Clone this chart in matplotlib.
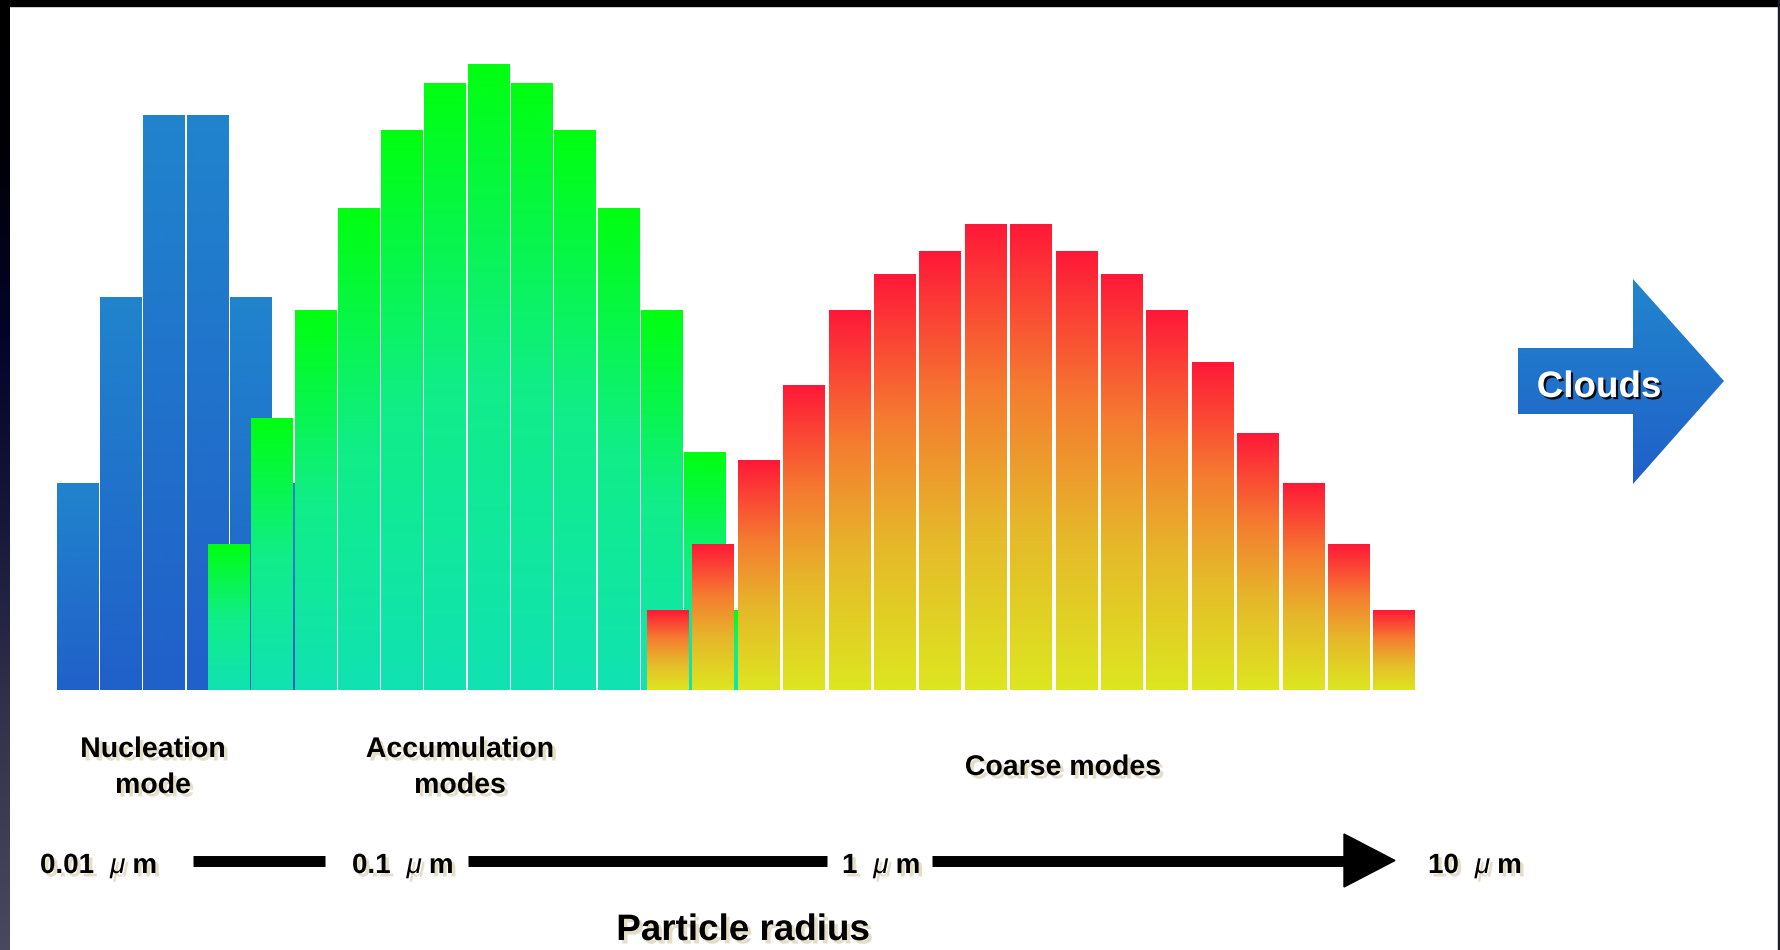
import numpy as np
import matplotlib
matplotlib.use("Agg")
import matplotlib.pyplot as plt
from matplotlib.patches import Rectangle, Polygon
from matplotlib.colors import LinearSegmentedColormap
import matplotlib.patheffects as pe

# Relative number concentration in each radius bin, per aerosol mode
nucleation = [207, 393, 575, 575, 393, 207]
accumulation = [146, 272, 380, 482, 560, 607, 626, 607, 560, 482, 380, 238, 80]
coarse = [80, 146, 230, 305, 380, 416, 439, 466, 466, 439, 416, 380, 328, 257, 207, 146, 80]

mode_labels = ["Nucleation\nmode", "Accumulation\nmodes", "Coarse modes"]
radius_ticks = ["0.01", "0.1", "1", "10"]
radius_unit = ("\u03bc", "m")
axis_title = "Particle radius"
arrow_label = "Clouds"

W, H = 1781, 950
fig = plt.figure(figsize=(W / 100, H / 100), dpi=100)
fig.patch.set_facecolor("white")

FONT = "Liberation Sans"
base_px, top_px = 690, 6

# ---- histogram bars with vertical colour gradients ----
ax = fig.add_axes([0, (H - base_px) / H, 1, (base_px - top_px) / H])
ax.axis("off")

modes = [
    (nucleation, 57.0, 43.25, 42.0,
     [(0, "#2084CD"), (1, "#2060C9")], 1),
    (accumulation, 208.0, 43.3, 42.0,
     [(0, "#00FF10"), (0.5, "#10EE88"), (1, "#12E2B2")], 2),
    (coarse, 647.0, 45.4, 42.0,
     [(0, "#FF1838"), (0.35, "#F57C30"), (0.65, "#E6B82A"), (1, "#DDE620")], 3),
]
grad = np.linspace(0, 1, 256).reshape(-1, 1)
for vals, left, pitch, width, stops, z in modes:
    xs = left + pitch * np.arange(len(vals))
    bars = ax.bar(xs, vals, width=width, align="edge", color="none",
                  linewidth=0, zorder=z)
    cmap = LinearSegmentedColormap.from_list("g", stops)
    for b in bars:
        x0, w, h = b.get_x(), b.get_width(), b.get_height()
        ax.imshow(grad, cmap=cmap, vmin=0, vmax=1, extent=[x0, x0 + w, 0, h],
                  aspect="auto", interpolation="bilinear", zorder=z)
ax.set_xlim(0, W)
ax.set_ylim(0, base_px - top_px)

# ---- overlay in pixel coordinates for frame, labels and arrows ----
ov = fig.add_axes([0, 0, 1, 1], zorder=5)
ov.set_xlim(0, W)
ov.set_ylim(H, 0)
ov.axis("off")
ov.patch.set_alpha(0)

side = LinearSegmentedColormap.from_list(
    "side", [(0, "#000000"), (0.15, "#000006"), (0.35, "#04042a"),
             (0.55, "#17173a"), (0.75, "#32324c"), (1, "#48485f")])
ov.imshow(grad, cmap=side, extent=[0, 10, H, 0], aspect="auto",
          interpolation="bilinear", zorder=6)
ov.add_patch(Rectangle((0, 0), W, 6, color="black", zorder=6))
ov.add_patch(Rectangle((1778, 0), 3, H, color="#1c1c30", zorder=6))

shadow = [pe.SimplePatchShadow(offset=(2.5, -2.5), shadow_rgbFace="#E4DDC8",
                               alpha=1.0), pe.Normal()]

# mode names
mode_x = [153, 460, 1063]
for lab, x in zip(mode_labels, mode_x):
    lines = lab.split("\n")
    y0 = 757 if len(lines) == 2 else 775
    for i, line in enumerate(lines):
        ov.text(x, y0 + 36 * i, line, ha="center", va="baseline",
                fontsize=20.5, fontweight="bold", family=FONT,
                path_effects=shadow, zorder=7)

# radius scale
fig.canvas.draw()
renderer = fig.canvas.get_renderer()
inv = ov.transData.inverted()


def right_edge(t):
    bb = t.get_window_extent(renderer)
    return inv.transform((bb.x1, bb.y0))[0]


tick_x = [40, 352, 842, 1428]
for lab, x in zip(radius_ticks, tick_x):
    t = ov.text(x, 873, lab, ha="left", va="baseline", fontsize=20,
                fontweight="bold", family=FONT, path_effects=shadow, zorder=7)
    xe = right_edge(t)
    mu = ov.text(xe + 16, 873, radius_unit[0], ha="left", va="baseline",
                 fontsize=20, style="italic", family=FONT,
                 path_effects=shadow, zorder=7)
    xm = right_edge(mu)
    ov.text(xm + 7, 873, radius_unit[1], ha="left", va="baseline", fontsize=20,
            fontweight="bold", family=FONT, path_effects=shadow, zorder=7)

for x0, x1 in [(193, 325), (468, 827), (932, 1346)]:
    ov.plot([x0, x1], [860.5, 860.5], color="black", lw=7.9,
            solid_capstyle="butt", zorder=7)
ov.add_patch(Polygon([(1344, 834), (1395, 860.5), (1344, 887)],
                     closed=True, color="black", zorder=7))

ov.text(743, 940, axis_title, ha="center", va="baseline", fontsize=26.5,
        fontweight="bold", family=FONT, path_effects=shadow, zorder=7)

# clouds arrow
arrow_pts = [(1518, 348), (1633, 348), (1633, 279), (1724, 381),
             (1633, 484), (1633, 414), (1518, 414)]
arrow = Polygon(arrow_pts, closed=True, facecolor="none", edgecolor="none",
                zorder=7)
ov.add_patch(arrow)
blue = LinearSegmentedColormap.from_list("b", [(0, "#2086CD"), (1, "#205FC9")])
img = ov.imshow(grad, cmap=blue, extent=[1518, 1724, 484, 279], aspect="auto",
                interpolation="bilinear", zorder=7)
img.set_clip_path(arrow)
ov.text(1599, 397, arrow_label, ha="center", va="baseline", fontsize=26.5,
        fontweight="bold", family=FONT, color="white", zorder=8,
        path_effects=[pe.SimplePatchShadow(offset=(1.6, -1.6),
                                           shadow_rgbFace="black", alpha=0.9),
                      pe.Normal()])

ov.set_xlim(0, W)
ov.set_ylim(H, 0)
fig.savefig("out.png", dpi=100, facecolor="white")
